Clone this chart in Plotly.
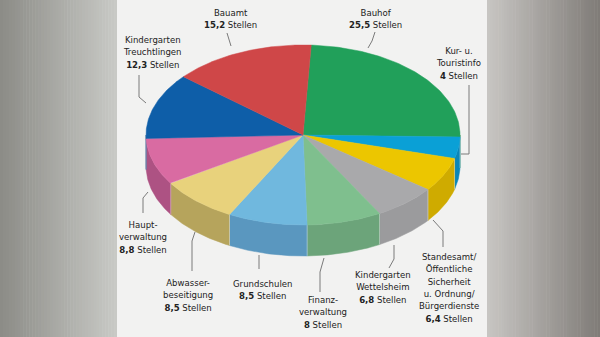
import numpy as np
import plotly.graph_objects as go

# Stellen je Bereich, im Uhrzeigersinn ab oben
categories = [
    "Bauhof",
    "Kur- u.<br>Touristinfo",
    "Standesamt/<br>Öffentliche<br>Sicherheit<br>u. Ordnung/<br>Bürgerdienste",
    "Kindergarten<br>Wettelsheim",
    "Finanz-<br>verwaltung",
    "Grundschulen",
    "Abwasser-<br>beseitigung",
    "Haupt-<br>verwaltung",
    "Kindergarten<br>Treuchtlingen",
    "Bauamt",
]
values = [25.5, 4, 6.4, 6.8, 8, 8.5, 8.5, 8.8, 12.3, 15.2]
unit = "Stellen"

top_colors = ["#21a05a", "#0aa0d6", "#ecc600", "#a9a9ab", "#7fbf8e", "#70b8de",
              "#e8d27c", "#d96ba2", "#0e5ea8", "#cf4748"]
side_colors = ["#1a8048", "#0a86b8", "#cfab00", "#9b9b9d", "#6ca47a", "#5a97bf",
               "#b6a45c", "#ad5283", "#0b4c88", "#a83a3b"]

# Geometrie des Kuchens (Pixelkoordinaten)
CX, CY, RX, RY, DEPTH = 303, 135, 157, 90, 31
START = 3.0  # Grad, im Uhrzeigersinn ab 12 Uhr

# Beschriftungen: Mittelpunkt x, y der ersten Zeile
label_pos = [
    (375, 12), (458, 51), (449, 257), (383, 275), (323, 300),
    (262, 283), (188, 283), (143, 225), (152, 40), (230, 12),
]
LINE_H = 12.3

# Hinweislinien
leaders = [
    [(375, 32), (372, 41), (368, 48)],
    [(469, 85), (469, 154), (461, 154)],
    [(433, 220), (443, 231), (443, 247)],
    [(394, 245), (394, 259), (389, 268)],
    [(324, 258), (320, 272), (320, 292)],
    [(259, 255), (259, 269)],
    [(195, 232), (192, 241), (192, 271)],
    [(148, 192), (143, 198), (143, 213)],
    [(139, 75), (139, 97), (146, 103)],
    [(227, 33), (229, 40), (231, 46)],
]


def fmt(v):
    return str(int(v)) if float(v).is_integer() else f"{v:.1f}".replace(".", ",")


def pt(theta_deg, dy=0.0):
    t = np.radians(theta_deg)
    return CX + RX * np.sin(t), CY - RY * np.cos(t) + dy


fig = go.Figure()

# Hintergrund: graue Verläufe links und rechts, helles Mittelfeld
shapes = []
def lerp(c1, c2, f):
    return "rgb(%d,%d,%d)" % tuple(int(round(a + (b - a) * f)) for a, b in zip(c1, c2))

n = 40
for i in range(n):
    x0 = 117 * i / n
    x1 = 117 * (i + 1) / n + 0.5
    shapes.append(dict(type="rect", x0=x0, x1=x1, y0=0, y1=337, line_width=0,
                       fillcolor=lerp((140, 140, 135), (200, 201, 197), i / (n - 1)), layer="below"))
    x0 = 487 + 113 * i / n
    x1 = 487 + 113 * (i + 1) / n + 0.5
    shapes.append(dict(type="rect", x0=x0, x1=x1, y0=0, y1=337, line_width=0,
                       fillcolor=lerp((199, 197, 194), (128, 124, 120), i / (n - 1)), layer="below"))
shapes.append(dict(type="rect", x0=117, x1=487, y0=0, y1=337, line_width=0,
                   fillcolor="#f2f2f1", layer="below"))

total = float(sum(values))
bounds = START + np.concatenate([[0], np.cumsum(values)]) / total * 360.0

# Seitenwände (nur vorderer Halbring 90°..270° sichtbar)
for i, v in enumerate(values):
    a0, a1 = max(bounds[i], 90.0), min(bounds[i + 1], 270.0)
    if a1 <= a0:
        continue
    th = np.linspace(a0, a1, 60)
    xt, yt = pt(th)
    xb, yb = pt(th[::-1], DEPTH)
    xs = np.concatenate([xt, xb, xt[:1]])
    ys = np.concatenate([yt, yb, yt[:1]])
    fig.add_trace(go.Scatter(x=xs, y=ys, mode="lines", fill="toself",
                             fillcolor=side_colors[i],
                             line=dict(color=side_colors[i], width=0.5),
                             hoverinfo="skip", showlegend=False))

# Helle Fugen zwischen den Seitenwänden
for b in bounds[1:-1]:
    if 90.0 < b < 270.0:
        x0, y0 = pt(b)
        x1, y1 = pt(b, DEPTH)
        fig.add_trace(go.Scatter(x=[x0, x1], y=[y0, y1], mode="lines",
                                 line=dict(color="rgba(255,255,255,0.45)", width=0.8),
                                 hoverinfo="skip", showlegend=False))

# Deckfläche
for i, v in enumerate(values):
    th = np.linspace(bounds[i], bounds[i + 1], 80)
    xa, ya = pt(th)
    xs = np.concatenate([[CX], xa, [CX]])
    ys = np.concatenate([[CY], ya, [CY]])
    fig.add_trace(go.Scatter(x=xs, y=ys, mode="lines", fill="toself",
                             fillcolor=top_colors[i],
                             line=dict(color=top_colors[i], width=0.5),
                             name=categories[i].replace("<br>", " "),
                             hovertemplate="%{fullData.name}: " + fmt(v) + " " + unit + "<extra></extra>",
                             showlegend=False))

# Hinweislinien
for path in leaders:
    fig.add_trace(go.Scatter(x=[p[0] for p in path], y=[p[1] for p in path], mode="lines",
                             line=dict(color="#7a7a7a", width=1),
                             hoverinfo="skip", showlegend=False))

# Beschriftungen
FONT = "DejaVu Sans Condensed, Liberation Sans Narrow, Arial Narrow, sans-serif"
annotations = []
for i, name in enumerate(categories):
    lines = name.split("<br>") + [f"<b>{fmt(values[i])}</b> {unit}"]
    x, y = label_pos[i]
    yc = y + (len(lines) - 1) * LINE_H / 2.0
    annotations.append(dict(x=x, y=yc, text="<br>".join(lines), showarrow=False,
                            xanchor="center", yanchor="middle", align="center",
                            borderpad=0,
                            font=dict(family=FONT, size=9.5, color="#222222")))

fig.update_layout(
    width=600, height=337,
    margin=dict(l=0, r=0, t=0, b=0),
    paper_bgcolor="#f2f2f1", plot_bgcolor="rgba(0,0,0,0)",
    xaxis=dict(range=[0, 600], visible=False, fixedrange=True),
    yaxis=dict(range=[337, 0], visible=False, fixedrange=True),
    shapes=shapes, annotations=annotations,
)

fig.write_html("out.html")
